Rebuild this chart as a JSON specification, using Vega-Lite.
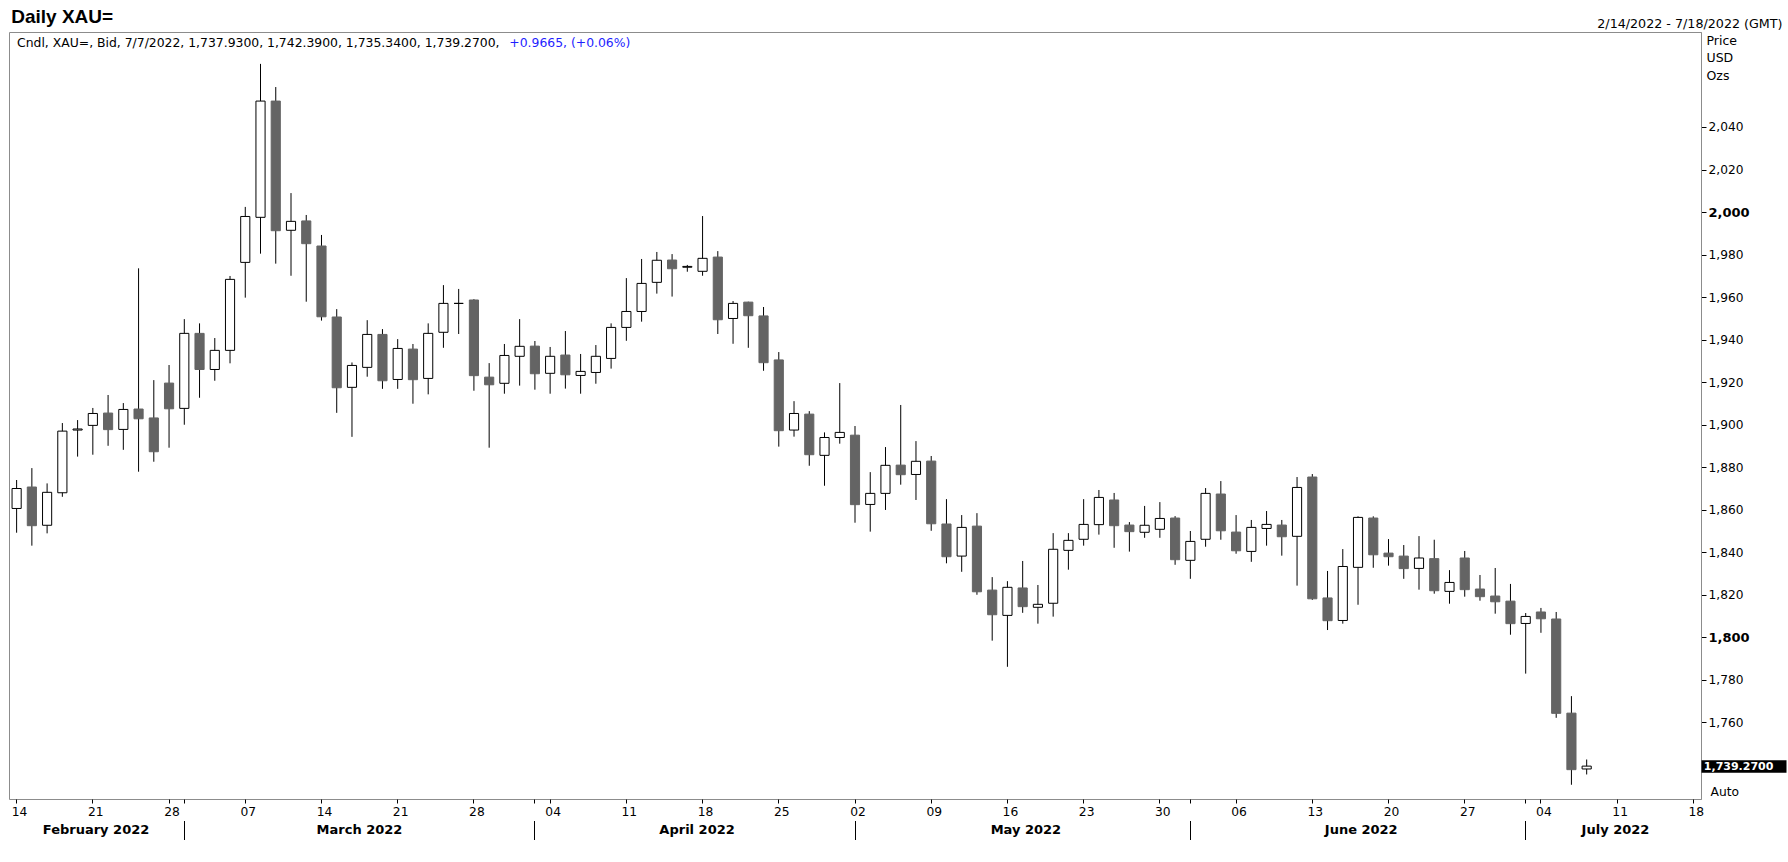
{
  "$schema": "https://vega.github.io/schema/vega-lite/v6.json",
  "width": 1692,
  "height": 767,
  "autosize": "none",
  "padding": {"left": 9, "top": 32, "right": 87, "bottom": 63},
  "background": "white",
  "data": {
    "values": [
      {"d": "2022-02-14", "o": 1860.5, "h": 1873.9, "l": 1849.1, "c": 1869.9},
      {"d": "2022-02-15", "o": 1870.6, "h": 1879.5, "l": 1843.0, "c": 1852.4},
      {"d": "2022-02-16", "o": 1852.6, "h": 1872.3, "l": 1848.8, "c": 1868.1},
      {"d": "2022-02-17", "o": 1867.9, "h": 1900.7, "l": 1866.0, "c": 1896.9},
      {"d": "2022-02-18", "o": 1897.4, "h": 1902.1, "l": 1884.9, "c": 1897.9},
      {"d": "2022-02-21", "o": 1899.6, "h": 1907.8, "l": 1885.8, "c": 1905.2},
      {"d": "2022-02-22", "o": 1905.4, "h": 1913.9, "l": 1890.0, "c": 1897.6},
      {"d": "2022-02-23", "o": 1897.7, "h": 1910.1, "l": 1888.1, "c": 1907.1},
      {"d": "2022-02-24", "o": 1907.3, "h": 1973.5, "l": 1877.8, "c": 1902.7},
      {"d": "2022-02-25", "o": 1903.1, "h": 1920.9, "l": 1882.5, "c": 1887.2},
      {"d": "2022-02-28", "o": 1919.5, "h": 1928.0, "l": 1889.1, "c": 1907.4},
      {"d": "2022-03-01", "o": 1907.6, "h": 1949.6, "l": 1899.9, "c": 1942.9},
      {"d": "2022-03-02", "o": 1942.9, "h": 1947.6, "l": 1912.6, "c": 1925.9},
      {"d": "2022-03-03", "o": 1925.9, "h": 1940.7, "l": 1920.6, "c": 1934.9},
      {"d": "2022-03-04", "o": 1934.9, "h": 1969.9, "l": 1928.8, "c": 1968.3},
      {"d": "2022-03-07", "o": 1976.3, "h": 2002.4, "l": 1959.7, "c": 1997.9},
      {"d": "2022-03-08", "o": 1997.5, "h": 2069.7, "l": 1980.4, "c": 2052.2},
      {"d": "2022-03-09", "o": 2052.2, "h": 2058.8, "l": 1975.7, "c": 1991.2},
      {"d": "2022-03-10", "o": 1991.4, "h": 2008.9, "l": 1970.0, "c": 1995.6},
      {"d": "2022-03-11", "o": 1995.8, "h": 1998.6, "l": 1957.8, "c": 1985.1},
      {"d": "2022-03-14", "o": 1984.0, "h": 1989.2, "l": 1948.9, "c": 1950.7},
      {"d": "2022-03-15", "o": 1950.6, "h": 1954.3, "l": 1905.5, "c": 1917.3},
      {"d": "2022-03-16", "o": 1917.5, "h": 1929.2, "l": 1894.2, "c": 1927.8},
      {"d": "2022-03-17", "o": 1926.9, "h": 1949.1, "l": 1922.5, "c": 1942.4},
      {"d": "2022-03-18", "o": 1942.4, "h": 1944.9, "l": 1916.8, "c": 1920.6},
      {"d": "2022-03-21", "o": 1921.2, "h": 1940.2, "l": 1916.8, "c": 1935.8},
      {"d": "2022-03-22", "o": 1935.5, "h": 1937.9, "l": 1909.8, "c": 1921.1},
      {"d": "2022-03-23", "o": 1921.7, "h": 1947.6, "l": 1914.2, "c": 1942.9},
      {"d": "2022-03-24", "o": 1943.4, "h": 1965.6, "l": 1936.1, "c": 1957.0},
      {"d": "2022-03-25", "o": 1957.0, "h": 1963.8, "l": 1942.6, "c": 1957.0},
      {"d": "2022-03-28", "o": 1958.6, "h": 1959.0, "l": 1915.9, "c": 1923.0},
      {"d": "2022-03-29", "o": 1922.3, "h": 1928.9, "l": 1889.1, "c": 1918.7},
      {"d": "2022-03-30", "o": 1919.4, "h": 1937.9, "l": 1914.5, "c": 1932.5},
      {"d": "2022-03-31", "o": 1932.1, "h": 1949.6, "l": 1918.3, "c": 1936.8},
      {"d": "2022-04-01", "o": 1936.9, "h": 1939.3, "l": 1916.4, "c": 1923.9},
      {"d": "2022-04-04", "o": 1924.1, "h": 1936.5, "l": 1914.5, "c": 1932.1},
      {"d": "2022-04-05", "o": 1932.7, "h": 1944.0, "l": 1916.9, "c": 1923.4},
      {"d": "2022-04-06", "o": 1923.1, "h": 1933.2, "l": 1914.5, "c": 1925.0},
      {"d": "2022-04-07", "o": 1924.5, "h": 1937.4, "l": 1919.2, "c": 1932.1},
      {"d": "2022-04-08", "o": 1931.1, "h": 1947.6, "l": 1926.3, "c": 1945.7},
      {"d": "2022-04-11", "o": 1945.7, "h": 1968.9, "l": 1939.4, "c": 1953.2},
      {"d": "2022-04-12", "o": 1953.2, "h": 1977.9, "l": 1948.4, "c": 1966.4},
      {"d": "2022-04-13", "o": 1966.9, "h": 1981.2, "l": 1961.6, "c": 1977.3},
      {"d": "2022-04-14", "o": 1977.4, "h": 1980.2, "l": 1960.2, "c": 1973.3},
      {"d": "2022-04-15", "o": 1974.0, "h": 1975.1, "l": 1971.9, "c": 1974.4},
      {"d": "2022-04-18", "o": 1972.1, "h": 1998.1, "l": 1970.0, "c": 1978.2},
      {"d": "2022-04-19", "o": 1978.8, "h": 1981.6, "l": 1942.6, "c": 1949.3},
      {"d": "2022-04-20", "o": 1949.9, "h": 1958.1, "l": 1938.0, "c": 1957.0},
      {"d": "2022-04-21", "o": 1957.6, "h": 1957.8, "l": 1936.1, "c": 1951.2},
      {"d": "2022-04-22", "o": 1951.1, "h": 1955.3, "l": 1925.3, "c": 1929.1},
      {"d": "2022-04-25", "o": 1930.4, "h": 1934.1, "l": 1889.6, "c": 1897.1},
      {"d": "2022-04-26", "o": 1897.4, "h": 1911.0, "l": 1894.3, "c": 1905.2},
      {"d": "2022-04-27", "o": 1904.9, "h": 1906.3, "l": 1880.6, "c": 1885.8},
      {"d": "2022-04-28", "o": 1885.5, "h": 1896.3, "l": 1871.2, "c": 1893.9},
      {"d": "2022-04-29", "o": 1893.9, "h": 1919.5, "l": 1891.0, "c": 1896.3},
      {"d": "2022-05-02", "o": 1895.0, "h": 1899.3, "l": 1853.8, "c": 1862.3},
      {"d": "2022-05-03", "o": 1862.4, "h": 1877.6, "l": 1849.6, "c": 1867.6},
      {"d": "2022-05-04", "o": 1867.6, "h": 1889.4, "l": 1859.8, "c": 1880.8},
      {"d": "2022-05-05", "o": 1880.9, "h": 1909.2, "l": 1871.7, "c": 1876.4},
      {"d": "2022-05-06", "o": 1876.5, "h": 1892.2, "l": 1864.5, "c": 1882.7},
      {"d": "2022-05-09", "o": 1882.8, "h": 1885.2, "l": 1850.0, "c": 1853.3},
      {"d": "2022-05-10", "o": 1853.2, "h": 1864.9, "l": 1834.7, "c": 1837.8},
      {"d": "2022-05-11", "o": 1838.1, "h": 1857.4, "l": 1830.7, "c": 1851.6},
      {"d": "2022-05-12", "o": 1852.2, "h": 1858.3, "l": 1819.9, "c": 1821.3},
      {"d": "2022-05-13", "o": 1822.1, "h": 1828.2, "l": 1798.3, "c": 1810.5},
      {"d": "2022-05-16", "o": 1810.2, "h": 1826.3, "l": 1786.0, "c": 1823.4},
      {"d": "2022-05-17", "o": 1823.1, "h": 1835.8, "l": 1811.4, "c": 1814.3},
      {"d": "2022-05-18", "o": 1814.0, "h": 1824.5, "l": 1806.3, "c": 1815.4},
      {"d": "2022-05-19", "o": 1815.9, "h": 1848.9, "l": 1809.6, "c": 1841.3},
      {"d": "2022-05-20", "o": 1840.8, "h": 1848.9, "l": 1831.7, "c": 1845.5},
      {"d": "2022-05-23", "o": 1846.0, "h": 1864.9, "l": 1843.0, "c": 1853.0},
      {"d": "2022-05-24", "o": 1852.9, "h": 1869.2, "l": 1848.2, "c": 1865.7},
      {"d": "2022-05-25", "o": 1864.5, "h": 1867.8, "l": 1842.0, "c": 1852.4},
      {"d": "2022-05-26", "o": 1852.7, "h": 1854.1, "l": 1840.2, "c": 1849.6},
      {"d": "2022-05-27", "o": 1849.3, "h": 1861.7, "l": 1846.7, "c": 1852.6},
      {"d": "2022-05-30", "o": 1850.7, "h": 1863.5, "l": 1846.7, "c": 1855.8},
      {"d": "2022-05-31", "o": 1856.0, "h": 1856.9, "l": 1834.0, "c": 1836.4},
      {"d": "2022-06-01", "o": 1836.1, "h": 1849.9, "l": 1827.4, "c": 1845.0},
      {"d": "2022-06-02", "o": 1846.0, "h": 1870.1, "l": 1842.5, "c": 1867.6},
      {"d": "2022-06-03", "o": 1867.3, "h": 1873.4, "l": 1845.8, "c": 1850.0},
      {"d": "2022-06-06", "o": 1849.4, "h": 1857.4, "l": 1839.2, "c": 1840.6},
      {"d": "2022-06-07", "o": 1840.3, "h": 1855.1, "l": 1835.4, "c": 1851.6},
      {"d": "2022-06-08", "o": 1851.1, "h": 1859.3, "l": 1843.0, "c": 1853.0},
      {"d": "2022-06-09", "o": 1852.7, "h": 1855.1, "l": 1838.3, "c": 1847.2},
      {"d": "2022-06-10", "o": 1847.4, "h": 1875.3, "l": 1824.2, "c": 1870.4},
      {"d": "2022-06-13", "o": 1875.3, "h": 1876.7, "l": 1817.5, "c": 1818.0},
      {"d": "2022-06-14", "o": 1818.4, "h": 1831.1, "l": 1803.3, "c": 1807.7},
      {"d": "2022-06-15", "o": 1807.8, "h": 1841.4, "l": 1806.3, "c": 1833.2},
      {"d": "2022-06-16", "o": 1832.8, "h": 1856.8, "l": 1815.2, "c": 1856.3},
      {"d": "2022-06-17", "o": 1856.0, "h": 1856.8, "l": 1832.6, "c": 1838.7},
      {"d": "2022-06-20", "o": 1839.5, "h": 1846.1, "l": 1833.6, "c": 1837.8},
      {"d": "2022-06-21", "o": 1838.1, "h": 1843.3, "l": 1827.4, "c": 1832.2},
      {"d": "2022-06-22", "o": 1832.3, "h": 1847.5, "l": 1822.3, "c": 1837.2},
      {"d": "2022-06-23", "o": 1836.9, "h": 1845.8, "l": 1820.4, "c": 1821.8},
      {"d": "2022-06-24", "o": 1821.5, "h": 1831.5, "l": 1815.7, "c": 1825.7},
      {"d": "2022-06-27", "o": 1837.2, "h": 1840.5, "l": 1819.0, "c": 1822.3},
      {"d": "2022-06-28", "o": 1822.6, "h": 1829.2, "l": 1817.1, "c": 1819.0},
      {"d": "2022-06-29", "o": 1819.3, "h": 1832.5, "l": 1811.0, "c": 1816.6},
      {"d": "2022-06-30", "o": 1816.9, "h": 1825.0, "l": 1801.1, "c": 1806.3},
      {"d": "2022-07-01", "o": 1806.4, "h": 1811.3, "l": 1782.8, "c": 1809.7},
      {"d": "2022-07-04", "o": 1811.8, "h": 1813.7, "l": 1802.0, "c": 1808.6},
      {"d": "2022-07-05", "o": 1808.5, "h": 1811.8, "l": 1762.0, "c": 1764.1},
      {"d": "2022-07-06", "o": 1764.2, "h": 1772.2, "l": 1730.5, "c": 1737.6},
      {"d": "2022-07-07", "o": 1737.93, "h": 1742.39, "l": 1735.34, "c": 1739.27}
    ]
  },
  "layer": [
    {
      "mark": {"type": "rule", "color": "black", "strokeWidth": 1},
      "encoding": {
        "x": {
          "field": "d",
          "type": "ordinal",
          "scale": {
            "type": "band",
            "paddingInner": 0,
            "paddingOuter": 0,
            "domain": [
              "2022-02-14", "2022-02-15", "2022-02-16", "2022-02-17", "2022-02-18",
              "2022-02-21", "2022-02-22", "2022-02-23", "2022-02-24", "2022-02-25",
              "2022-02-28", "2022-03-01", "2022-03-02", "2022-03-03", "2022-03-04",
              "2022-03-07", "2022-03-08", "2022-03-09", "2022-03-10", "2022-03-11",
              "2022-03-14", "2022-03-15", "2022-03-16", "2022-03-17", "2022-03-18",
              "2022-03-21", "2022-03-22", "2022-03-23", "2022-03-24", "2022-03-25",
              "2022-03-28", "2022-03-29", "2022-03-30", "2022-03-31", "2022-04-01",
              "2022-04-04", "2022-04-05", "2022-04-06", "2022-04-07", "2022-04-08",
              "2022-04-11", "2022-04-12", "2022-04-13", "2022-04-14", "2022-04-15",
              "2022-04-18", "2022-04-19", "2022-04-20", "2022-04-21", "2022-04-22",
              "2022-04-25", "2022-04-26", "2022-04-27", "2022-04-28", "2022-04-29",
              "2022-05-02", "2022-05-03", "2022-05-04", "2022-05-05", "2022-05-06",
              "2022-05-09", "2022-05-10", "2022-05-11", "2022-05-12", "2022-05-13",
              "2022-05-16", "2022-05-17", "2022-05-18", "2022-05-19", "2022-05-20",
              "2022-05-23", "2022-05-24", "2022-05-25", "2022-05-26", "2022-05-27",
              "2022-05-30", "2022-05-31", "2022-06-01", "2022-06-02", "2022-06-03",
              "2022-06-06", "2022-06-07", "2022-06-08", "2022-06-09", "2022-06-10",
              "2022-06-13", "2022-06-14", "2022-06-15", "2022-06-16", "2022-06-17",
              "2022-06-20", "2022-06-21", "2022-06-22", "2022-06-23", "2022-06-24",
              "2022-06-27", "2022-06-28", "2022-06-29", "2022-06-30", "2022-07-01",
              "2022-07-04", "2022-07-05", "2022-07-06", "2022-07-07", "2022-07-08",
              "2022-07-11", "2022-07-12", "2022-07-13", "2022-07-14", "2022-07-15",
              "2022-07-18"
            ]
          },
          "axis": {
            "orient": "bottom",
            "title": null,
            "values": [
              "2022-02-14", "2022-02-21", "2022-02-28", "2022-03-01", "2022-03-07",
              "2022-03-14", "2022-03-21", "2022-03-28", "2022-04-01", "2022-04-04",
              "2022-04-11", "2022-04-18", "2022-04-25", "2022-05-02", "2022-05-09",
              "2022-05-16", "2022-05-23", "2022-05-30", "2022-06-01", "2022-06-06",
              "2022-06-13", "2022-06-20", "2022-06-27", "2022-07-01", "2022-07-04",
              "2022-07-11", "2022-07-18"
            ],
            "labelExpr": "utcday(toDate(datum.value)) == 1 ? slice(datum.value, 8) : ''",
            "domain": false,
            "grid": false,
            "tickSize": 4,
            "tickColor": "black",
            "labelAngle": 0,
            "labelOverlap": false,
            "labelFont": "DejaVu Sans",
            "labelFontSize": 12.3,
            "labelColor": "black",
            "labelBaseline": "alphabetic",
            "labelPadding": 12.5,
            "labelOffset": 3
          }
        },
        "y": {
          "field": "l",
          "type": "quantitative",
          "scale": {"domain": [1723.8, 2084.7], "nice": false, "zero": false},
          "axis": {
            "orient": "right",
            "values": [1760, 1780, 1800, 1820, 1840, 1860, 1880, 1900, 1920, 1940, 1960, 1980, 2000, 2020, 2040],
            "format": ",.0f",
            "grid": false,
            "tickSize": 5,
            "tickColor": "black",
            "domainColor": "#8c8c8c",
            "labelPadding": 2,
            "labelFlush": false,
            "labelOverlap": false,
            "labelFont": "DejaVu Sans",
            "labelColor": "black",
            "labelFontSize": {"condition": {"test": "datum.value % 200 == 0", "value": 13}, "value": 12.2},
            "labelFontWeight": {"condition": {"test": "datum.value % 200 == 0", "value": "bold"}, "value": "normal"},
            "title": ["Price", "USD", "Ozs"],
            "titleAngle": 0,
            "titleAlign": "left",
            "titleBaseline": "top",
            "titleX": 5,
            "titleY": 2,
            "titleFont": "DejaVu Sans",
            "titleFontSize": 12.5,
            "titleFontWeight": "normal",
            "titleColor": "black",
            "titleLineHeight": 17.5
          }
        },
        "y2": {"field": "h"}
      }
    },
    {
      "mark": {"type": "bar", "width": {"band": 0.6}, "strokeWidth": 1},
      "encoding": {
        "x": {
          "field": "d",
          "type": "ordinal",
          "axis": {
            "orient": "bottom",
            "title": null,
            "values": ["2022-02-21", "2022-03-16", "2022-04-18", "2022-05-17", "2022-06-16", "2022-07-11"],
            "labelExpr": "utcFormat(toDate(datum.value), '%B %Y')",
            "ticks": false,
            "tickSize": 0,
            "domain": false,
            "grid": false,
            "offset": 20,
            "labelAngle": 0,
            "labelOverlap": false,
            "labelFont": "DejaVu Sans",
            "labelFontWeight": "bold",
            "labelFontSize": 13,
            "labelColor": "black",
            "labelBaseline": "alphabetic",
            "labelPadding": 14.2,
            "labelOffset": {
              "condition": [
                {"test": "datum.value == '2022-03-16'", "value": 7.5},
                {"test": "datum.value == '2022-04-18'", "value": -5.5},
                {"test": "datum.value == '2022-07-11'", "value": -1.7}
              ],
              "value": 3.2
            }
          }
        },
        "y": {"field": "o", "type": "quantitative", "axis": null},
        "y2": {"field": "c"},
        "fill": {"condition": {"test": "datum.c >= datum.o", "value": "white"}, "value": "#646464"},
        "stroke": {"condition": {"test": "datum.c >= datum.o", "value": "black"}, "value": "#646464"}
      }
    },
    {
      "data": {"values": [{"t": "Cndl, XAU=, Bid, 7/7/2022, 1,737.9300, 1,742.3900, 1,735.3400, 1,739.2700,"}]},
      "mark": {"type": "text", "align": "left", "baseline": "alphabetic", "font": "DejaVu Sans", "fontSize": 12.4, "color": "black", "dx": 0.4},
      "encoding": {
        "x": {
          "datum": "2022-02-14",
          "type": "ordinal",
          "axis": {
            "orient": "bottom",
            "title": null,
            "values": ["2022-03-01", "2022-04-01", "2022-05-02", "2022-06-01", "2022-07-01"],
            "labels": false,
            "domain": false,
            "grid": false,
            "ticks": true,
            "tickSize": 19,
            "tickColor": "black",
            "offset": 21.5
          }
        },
        "y": {
          "datum": 2077.8,
          "type": "quantitative",
          "axis": {
            "orient": "right",
            "values": [1739.27],
            "format": ",.4f",
            "domain": false,
            "grid": false,
            "tickSize": 85,
            "tickWidth": 12.5,
            "tickColor": "black",
            "tickCap": "butt",
            "labelPadding": -82.7,
            "labelFlush": false,
            "labelOverlap": false,
            "labelAlign": "left",
            "labelFont": "DejaVu Sans",
            "labelFontWeight": "bold",
            "labelFontSize": 11,
            "labelColor": "white",
            "title": "2/14/2022 - 7/18/2022 (GMT)",
            "titleAngle": 0,
            "titleAlign": "right",
            "titleBaseline": "alphabetic",
            "titleX": 81,
            "titleY": -5,
            "titleFont": "DejaVu Sans",
            "titleFontSize": 12.7,
            "titleFontWeight": "normal",
            "titleColor": "black"
          }
        },
        "text": {"field": "t"}
      }
    },
    {
      "data": {"values": [{"t": "+0.9665, (+0.06%)"}]},
      "mark": {"type": "text", "align": "left", "baseline": "alphabetic", "font": "DejaVu Sans", "fontSize": 12.4, "color": "#1f1fff", "dx": 492.7},
      "encoding": {
        "x": {
          "datum": "2022-02-14",
          "type": "ordinal",
          "axis": {
            "orient": "top",
            "labels": false,
            "ticks": false,
            "domain": false,
            "grid": false,
            "title": "Daily XAU=",
            "titleFont": "Liberation Sans",
            "titleFontSize": 19,
            "titleFontWeight": "bold",
            "titleColor": "black",
            "titleAngle": 0,
            "titleAlign": "left",
            "titleBaseline": "alphabetic",
            "titleX": 1.7,
            "titleY": -9.3
          }
        },
        "y": {
          "datum": 2077.8,
          "type": "quantitative",
          "axis": {
            "orient": "right",
            "values": [],
            "domain": false,
            "grid": false,
            "ticks": false,
            "labels": false,
            "title": "Auto",
            "titleAngle": 0,
            "titleAlign": "left",
            "titleBaseline": "alphabetic",
            "titleX": 9,
            "titleY": 763,
            "titleFont": "DejaVu Sans",
            "titleFontSize": 12.3,
            "titleFontWeight": "normal",
            "titleColor": "black"
          }
        },
        "text": {"field": "t"}
      }
    }
  ],
  "resolve": {"axis": {"x": "independent", "y": "independent"}},
  "config": {
    "view": {"stroke": "#8c8c8c", "strokeWidth": 1},
    "axis": {"labelFont": "DejaVu Sans", "titleFont": "DejaVu Sans"}
  }
}
